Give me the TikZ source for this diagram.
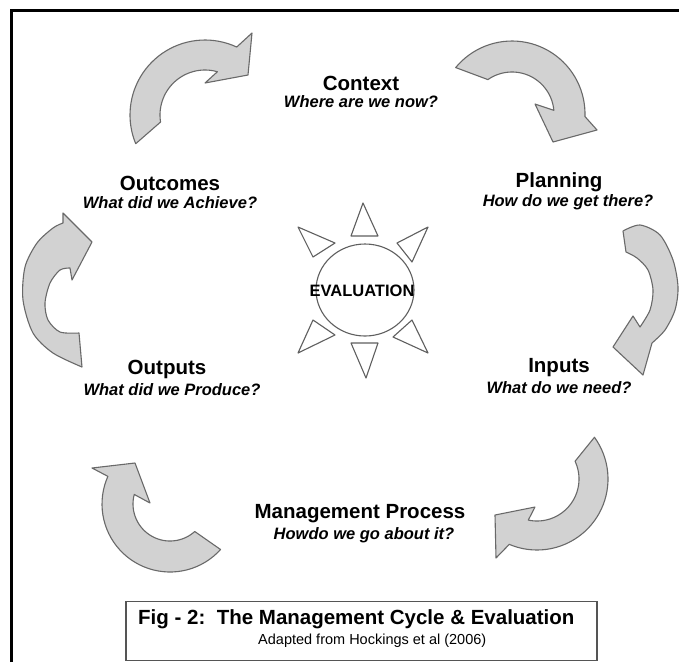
\documentclass[tikz,border=0pt]{standalone}
\usepackage{fontspec}
\setmainfont{Liberation Sans}
\usetikzlibrary{shapes.geometric}
\definecolor{arrowfill}{RGB}{210,210,210}
\definecolor{arrowline}{RGB}{105,105,105}
\definecolor{rayline}{RGB}{95,95,95}
\definecolor{boxline}{RGB}{85,85,85}
\begin{document}
\begin{tikzpicture}[x=1pt,y=-1pt,
  cyclearrow/.style={fill=arrowfill,draw=arrowline,line width=1.1pt,line join=round},
  ray/.style={draw=rayline,line width=1.1pt,fill=white,line join=round},
  stage/.style={font=\fontsize{20.5}{24}\selectfont\bfseries,anchor=base,inner sep=0pt},
  question/.style={font=\fontsize{16.5}{20}\selectfont\bfseries\itshape,anchor=base,inner sep=0pt},
]
\useasboundingbox (0,0) rectangle (679,662);
\fill[white] (0,0) rectangle (679,662);

% outer frame (open to the right and bottom)
\draw[line width=3pt] (11.5,662) -- (11.5,10.5) -- (679,10.5);

% --- the six curved block arrows of the cycle ---
% Outcomes -> Context
\draw[cyclearrow]
  plot[domain=157.5:295,samples=40,variable=\t] ({205+75*cos(\t)},{115+75*sin(\t)})
  -- (252,33) -- (248,75) -- (205,83)
  -- plot[domain=286:171,samples=40,variable=\t] ({205+45*cos(\t)},{115+45*sin(\t)})
  -- cycle;
% Context -> Planning
\draw[cyclearrow]
  plot[domain=219.5:362,samples=40,variable=\t] ({512+73*cos(\t)},{114+73*sin(\t)})
  -- (597,130) -- (553,142) -- (535,104)
  -- plot[domain=355:235,samples=40,variable=\t] ({512+42*cos(\t)},{114+42*sin(\t)})
  -- cycle;
% Planning -> Inputs
\draw[cyclearrow]
  plot[smooth] coordinates {(623,231) (640,225) (660,235) (673,260) (678,287) (675,310) (665,330) (652,343)}
  -- (643,375) -- (613,347) -- (633,316)
  -- plot[smooth] coordinates {(640,327) (650,310) (653,290) (648,270) (637,258) (626,252)}
  -- cycle;
% Inputs -> Management Process
\draw[cyclearrow]
  plot[domain=-36:113,samples=40,variable=\t] ({537+71*cos(\t)},{479+71*sin(\t)})
  -- (496,558) -- (495,515) -- (535,507)
  -- plot[domain=102:-25,samples=40,variable=\t] ({537+42*cos(\t)},{479+42*sin(\t)})
  -- cycle;
% Management Process -> Outputs
\draw[cyclearrow]
  plot[domain=42:204,samples=40,variable=\t] ({170+68*cos(\t)},{504+68*sin(\t)})
  -- (92,468) -- (135,463) -- (150,503)
  -- plot[domain=195:48,samples=40,variable=\t] ({170+37*cos(\t)},{504+37*sin(\t)})
  -- cycle;
% Outputs -> Outcomes
\draw[cyclearrow]
  plot[smooth] coordinates {(82,367) (53,353) (33,333) (23,300) (25,267) (37,243) (53,228) (63,223)}
  -- (63,213) -- (92,242) -- (72,280)
  -- plot[smooth] coordinates {(70,268) (60,270) (50,283) (45,303) (48,320) (60,332) (79,333)}
  -- cycle;

% --- evaluation sun ---
\node[ray,ellipse,minimum width=98pt,minimum height=92pt,inner sep=0pt] (sun) at (365,290) {};
\node[font=\fontsize{16.5}{20}\selectfont\bfseries,inner sep=0pt] (evaltext) at (362,291) {EVALUATION};
\draw[ray] (363,203) -- (378,236) -- (351,236) -- cycle;
\draw[ray] (366,378) -- (378,343) -- (351,343) -- cycle;
\draw[ray] (298,227) -- (335,243) -- (313,257) -- cycle;
\draw[ray] (428,227) -- (397,243) -- (412,262) -- cycle;
\draw[ray] (298,353) -- (313,320) -- (335,335) -- cycle;
\draw[ray] (428,353) -- (412,320) -- (393,337) -- cycle;

% --- stage labels ---
\node[stage] (context) at (361,90.5) {Context};
\node[question] (contextq) at (361,107) {Where are we now?};
\node[stage] (planning) at (559,187) {Planning};
\node[question] (planningq) at (568,206) {How do we get there?};
\node[stage] (outcomes) at (170,190.5) {Outcomes};
\node[question] (outcomesq) at (170,208) {What did we Achieve?};
\node[stage] (outputs) at (167,374) {Outputs};
\node[question] (outputsq) at (172,395) {What did we Produce?};
\node[stage] (inputs) at (559,372) {Inputs};
\node[question] (inputsq) at (559,393) {What do we need?};
\node[stage] (mgmt) at (360,518.5) {Management Process};
\node[question] (mgmtq) at (364,539) {Howdo we go about it?};

% --- caption box ---
\node[draw=boxline,line width=1.6pt,minimum width=471pt,minimum height=59pt,inner sep=0pt] (capbox) at (361.75,631) {};
\node[anchor=base west,inner sep=0pt,font=\fontsize{20.5}{24}\selectfont\bfseries] (figtitle) at (138,624.5) {Fig - 2:\ \ The Management Cycle \& Evaluation};
\node[anchor=base west,inner sep=0pt,font=\fontsize{14.5}{17}\selectfont] (figsource) at (258,644) {Adapted from Hockings et al (2006)};
\end{tikzpicture}
\end{document}
